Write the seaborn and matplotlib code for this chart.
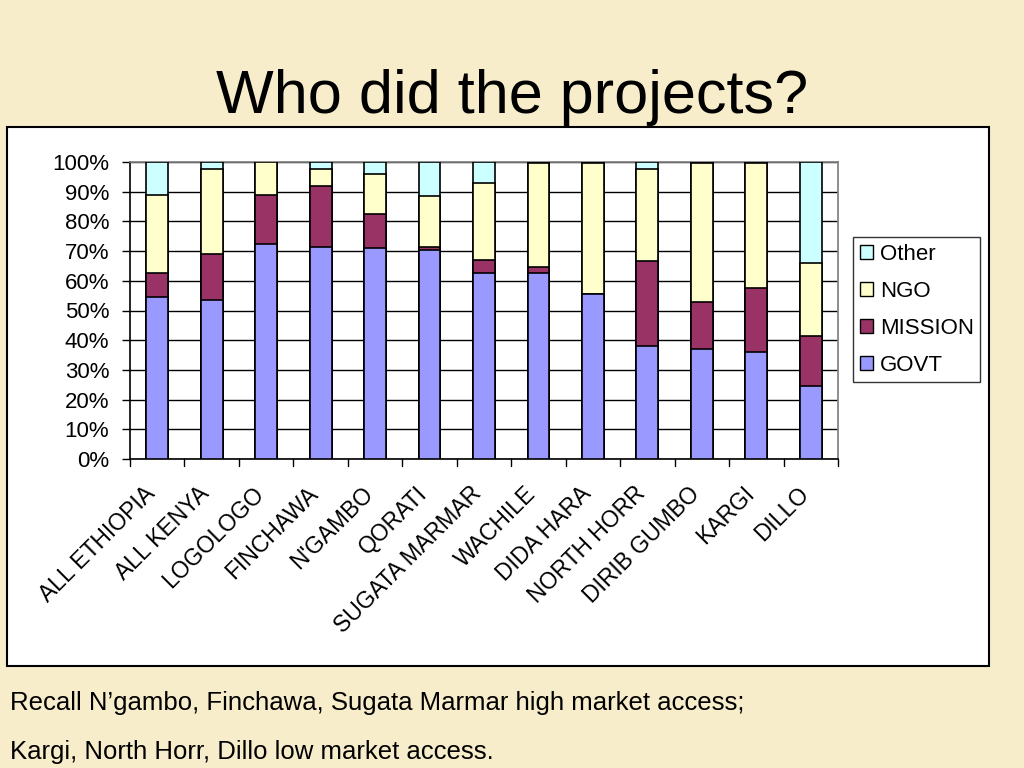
import numpy as np
import pandas as pd
from matplotlib import pyplot as plt
from matplotlib.patches import Rectangle, Patch
from matplotlib.transforms import ScaledTranslation
import seaborn as sns

sites = ["ALL ETHIOPIA", "ALL KENYA", "LOGOLOGO", "FINCHAWA", "N'GAMBO", "QORATI",
         "SUGATA MARMAR", "WACHILE", "DIDA HARA", "NORTH HORR", "DIRIB GUMBO", "KARGI", "DILLO"]
govt =    [54.5, 53.5, 72.5, 71.5, 71.0, 70.5, 62.5, 62.5, 55.5, 38.0, 37.0, 36.0, 24.5]
mission = [8.0, 15.5, 16.5, 20.5, 11.5, 1.0, 4.5, 2.0, 0.0, 28.5, 16.0, 21.5, 17.0]
ngo =     [26.5, 28.5, 11.0, 5.5, 13.5, 17.0, 26.0, 35.0, 44.0, 31.0, 46.5, 42.0, 24.5]
other =   [11.0, 2.5, 0.0, 2.5, 4.0, 11.5, 7.0, 0.5, 0.5, 2.5, 0.5, 0.5, 34.0]

series = ["Other", "NGO", "MISSION", "GOVT"]
colors = {"GOVT": "#9999FF", "MISSION": "#993366", "NGO": "#FFFFCC", "Other": "#CCFFFF"}

df = pd.DataFrame({"site": sites, "GOVT": govt, "MISSION": mission, "NGO": ngo, "Other": other})
# cumulative tops, drawn from the tallest down so each bar covers the next
df["cum_GOVT"] = df["GOVT"]
df["cum_MISSION"] = df["cum_GOVT"] + df["MISSION"]
df["cum_NGO"] = df["cum_MISSION"] + df["NGO"]
df["cum_Other"] = df["cum_NGO"] + df["Other"]

sns.set_theme(style="white")
plt.rcParams["font.family"] = ["Liberation Sans", "DejaVu Sans"]
plt.rcParams["text.color"] = "black"
plt.rcParams["xtick.color"] = "black"
plt.rcParams["ytick.color"] = "black"

fig = plt.figure(figsize=(10.24, 7.68), dpi=100)
fig.patch.set_facecolor("#F8EDCB")

# white chart box behind the axes
fig.patches.append(Rectangle((7 / 1024, 1 - 666 / 768), 982 / 1024, 539 / 768,
                             transform=fig.transFigure, facecolor="white",
                             edgecolor="black", linewidth=1.5, zorder=-1))

ax = fig.add_axes([130 / 1024, 1 - 459 / 768, 708 / 1024, 297 / 768])
ax.set_zorder(2)
ax.set_facecolor("white")

for s in series:
    sns.barplot(data=df, x="site", y="cum_" + s, color=colors[s], edgecolor="black",
                linewidth=1.2, width=0.4, ax=ax, zorder=3, saturation=1)

ax.set_ylim(0, 100)
ax.set_xlim(-0.5, len(sites) - 0.5)
ax.set_yticks(np.arange(0, 101, 10))
ax.set_yticklabels([f"{v}%" for v in range(0, 101, 10)], fontsize=16)
ax.yaxis.grid(True, color="black", linewidth=1)
ax.set_axisbelow(True)

ax.set_xticks(np.arange(len(sites)))
ax.set_xticklabels(sites, rotation=45, ha="right", rotation_mode="anchor", fontsize=16.5)
ax.tick_params(axis="x", length=0, pad=18)
# nudge the rotated labels a bit to the left, as in the original
shift = ScaledTranslation(-0.14, 0.02, fig.dpi_scale_trans)
for lab in ax.get_xticklabels():
    lab.set_transform(lab.get_transform() + shift)
# tick marks between categories
for xb in np.arange(-0.5, len(sites), 1.0):
    ax.plot([xb, xb], [0, -2.4], color="black", linewidth=1, clip_on=False)
ax.tick_params(axis="y", length=6, color="black", left=True, width=1, pad=9)
ax.set_xlabel("")
ax.set_ylabel("")

for side in ["top", "right"]:
    ax.spines[side].set_color("#808080")
for side in ["left", "bottom"]:
    ax.spines[side].set_color("black")
    ax.spines[side].set_linewidth(1.2)

handles = [Patch(facecolor=colors[s], edgecolor="black", label=s) for s in series]
leg = fig.legend(handles=handles, loc="upper left", bbox_to_anchor=(853 / 1024, 1 - 237 / 768),
                 fontsize=16, frameon=True, fancybox=False, handlelength=0.6, handleheight=0.6,
                 handletextpad=0.3, labelspacing=0.72, borderpad=0.3, borderaxespad=0)
leg.get_frame().set_edgecolor("black")
leg.get_frame().set_linewidth(1)

fig.text(0.5, 1 - 97 / 768, "Who did the projects?", ha="center", va="center", fontsize=44)
fig.text(10 / 1024, 1 - 703 / 768, "Recall N\u2019gambo, Finchawa, Sugata Marmar high market access;",
         ha="left", va="center", fontsize=18.5)
fig.text(10 / 1024, 1 - 752 / 768, "Kargi, North Horr, Dillo low market access.",
         ha="left", va="center", fontsize=18.5)

fig.savefig("out.png", dpi=100, facecolor=fig.get_facecolor())
